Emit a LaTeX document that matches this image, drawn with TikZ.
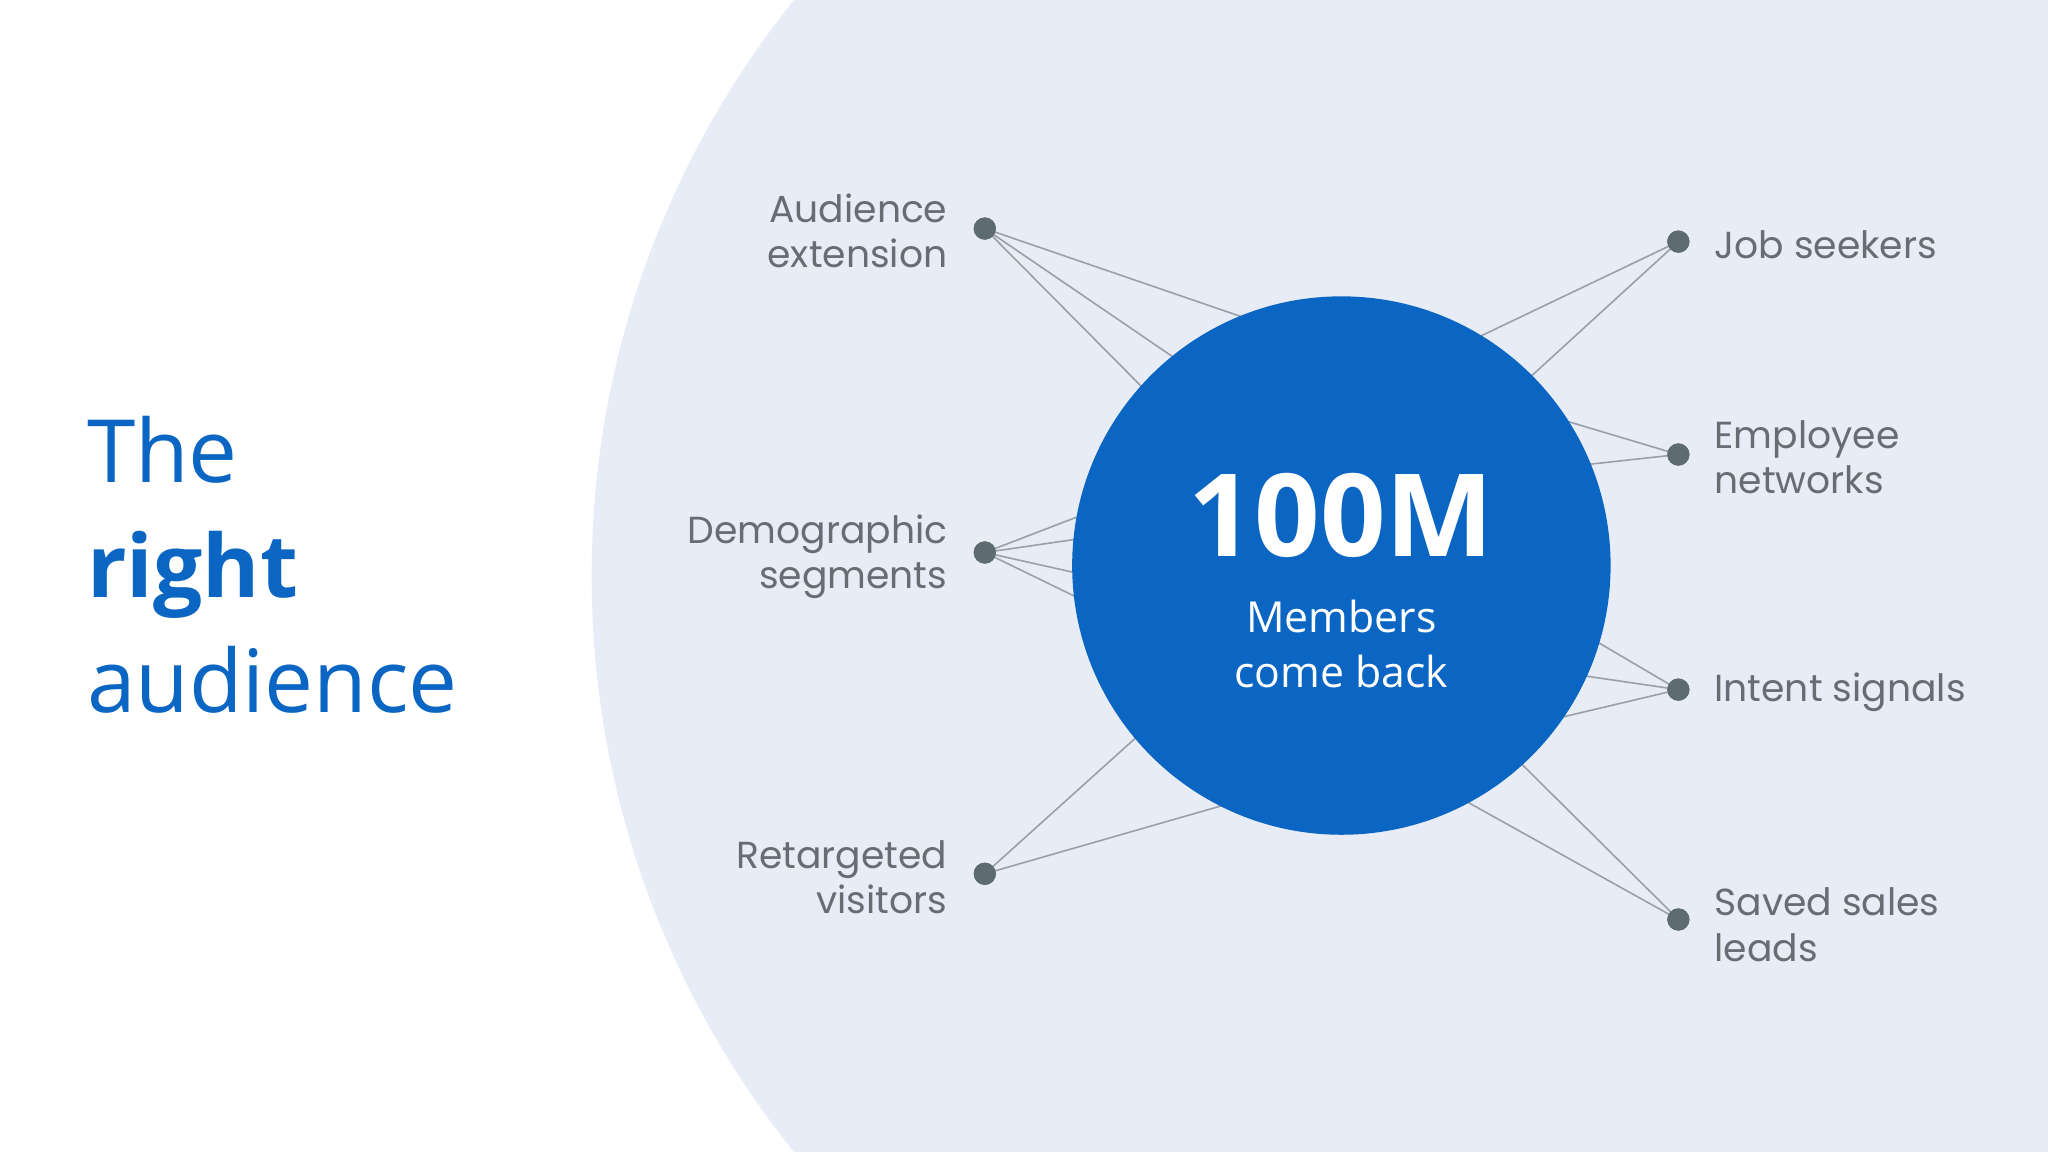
\documentclass[tikz,border=0pt]{standalone}
\usepackage{fontspec}
\setmainfont{Poppins}
\newfontfamily\titlefont{Open Sans}
\definecolor{bgarc}{HTML}{E8ECF6}
\definecolor{mainblue}{HTML}{0A66C2}
\definecolor{dotgray}{HTML}{5F6B73}
\definecolor{txtgray}{HTML}{666E74}
\definecolor{linegray}{HTML}{9AA0A8}
\tikzset{
  dot/.style={circle,fill=dotgray,inner sep=0pt,minimum size=0.17cm},
  lbl/.style={font=\fontsize{8.2}{9.8}\selectfont,text=txtgray,inner sep=0pt},
  conn/.style={draw=linegray,line width=0.35pt}
}
\begin{document}
\begin{tikzpicture}[x=0.01cm,y=-0.01cm]
\useasboundingbox (0,0) rectangle (1568,882);
\fill[white] (0,0) rectangle (1568,882);
\begin{scope}
\clip (0,0) rectangle (1568,882);
\fill[bgarc] (1158,441) circle[radius=705];
\end{scope}
% dots
\node[dot] (ae) at (754,175) {};
\node[dot] (ds) at (754,423) {};
\node[dot] (rv) at (754,669) {};
\node[dot] (js) at (1285,185) {};
\node[dot] (en) at (1285,348) {};
\node[dot] (is) at (1285,528) {};
\node[dot] (ss) at (1285,704) {};
% circle boundary points
\coordinate (a1) at (955,244); \coordinate (a2) at (905,278); \coordinate (a3) at (880,302);
\coordinate (d1) at (832,393); \coordinate (d2) at (830,412); \coordinate (d3) at (830,440); \coordinate (d4) at (830,460);
\coordinate (r1) at (875,560); \coordinate (r2) at (942,615);
\coordinate (j1) at (1128,260); \coordinate (j2) at (1168,292);
\coordinate (e1) at (1198,322); \coordinate (e2) at (1212,356);
\coordinate (i1) at (1217,488); \coordinate (i2) at (1210,517); \coordinate (i3) at (1192,550);
\coordinate (s1) at (1118,611); \coordinate (s2) at (1160,580);
\foreach \p in {a1,a2,a3} \draw[conn] (ae.center) -- (\p);
\foreach \p in {d1,d2,d3,d4} \draw[conn] (ds.center) -- (\p);
\foreach \p in {r1,r2} \draw[conn] (rv.center) -- (\p);
\foreach \p in {j1,j2} \draw[conn] (js.center) -- (\p);
\foreach \p in {e1,e2} \draw[conn] (en.center) -- (\p);
\foreach \p in {i1,i2,i3} \draw[conn] (is.center) -- (\p);
\foreach \p in {s1,s2} \draw[conn] (ss.center) -- (\p);
\node[dot] at (ae) {}; \node[dot] at (ds) {}; \node[dot] at (rv) {};
\node[dot] at (js) {}; \node[dot] at (en) {}; \node[dot] at (is) {}; \node[dot] at (ss) {};
% main circle
\node[circle,fill=mainblue,minimum size=4.12cm,inner sep=0pt] (hub) at (1027,433) {};
\node[font=\titlefont\bfseries\fontsize{25}{30}\selectfont,text=white] (big) at (1027,395) {100M};
\node[font=\titlefont\fontsize{9.3}{12}\selectfont,text=white,align=center] (sub) at (1027,493) {Members\\come back};
% labels
\node[lbl,anchor=east,align=right] (lae) at (726,177) {Audience\\extension};
\node[lbl,anchor=east,align=right] (lds) at (726,426) {Demographic\\segments};
\node[lbl,anchor=east,align=right] (lrv) at (726,672) {Retargeted\\visitors};
\node[lbl,anchor=west] (ljs) at (1312,187) {Job seekers};
\node[lbl,anchor=west,align=left] (len) at (1312,350) {Employee\\networks};
\node[lbl,anchor=west] (lis) at (1312,530) {Intent signals};
\node[lbl,anchor=west,align=left] (lss) at (1312,708) {Saved sales\\leads};
% title
\node[font=\titlefont\fontsize{19}{25}\selectfont,text=mainblue,anchor=north west,align=left,inner sep=0pt] (title) at (66,318) {The\\\textbf{right}\\audience};
\end{tikzpicture}
\end{document}
